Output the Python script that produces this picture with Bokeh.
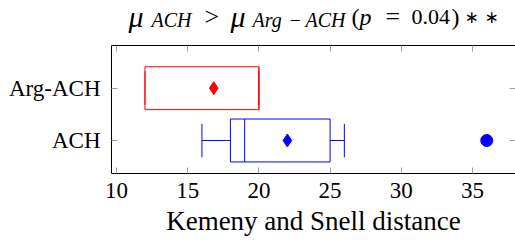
from bokeh.plotting import figure
from bokeh.models import Range1d, FixedTicker, LinearAxis, ColumnDataSource
from bokeh.layouts import column
from bokeh.embed import file_html
from bokeh.resources import INLINE

# ---- data ----
categories = ["ACH", "Arg-ACH"]
cat_pos = [1, 2]
colors = ["#0000ff", "#ff0000"]
lower_whisker = [16, 12]
q1 = [18, 12]
median = [19, 20]
q3 = [25, 20]
upper_whisker = [26, 20]
means = [22, 16.83]
outlier_cat = [1]
outlier_val = [36]
x_ticks = [10, 15, 20, 25, 30, 35]
x_label = "Kemeny and Snell distance"
title_pieces = ["μ", "ACH", ">", "μ", "Arg", "−", "ACH", "(", "p", "=", "0.04", ")", "∗", "∗"]

BOX_H = 0.41
CAP_H = 0.32
SERIF = "Liberation Serif"
W = 515
TITLE_H = 45
FRAME_L = 111

# ---- title strip (pixel coordinates) ----
tp_x = [128, 151, 204, 230, 252, 289, 305, 351, 359, 385, 411, 451, 464, 484]
tp_y = [16, 19, 16, 16, 19, 19, 19, 16, 16, 16, 16, 16, 16, 16]
tp_size = ["30px", "20px", "26px", "30px", "20px", "20px", "20px",
           "24px", "24px", "26px", "22px", "24px", "17px", "17px"]
tp_style = ["italic", "italic", "normal", "italic", "italic", "normal", "italic",
            "normal", "italic", "normal", "normal", "normal", "normal", "normal"]
tp_font = [SERIF, SERIF, SERIF, SERIF, SERIF, SERIF, SERIF,
           SERIF, SERIF, SERIF, SERIF, SERIF, "DejaVu Sans", "DejaVu Sans"]

t = figure(width=W, height=TITLE_H, output_backend="svg", toolbar_location=None,
           x_range=Range1d(FRAME_L, W), y_range=Range1d(TITLE_H, 0),
           x_axis_location=None, y_axis_location=None)
t.min_border_left = FRAME_L
t.min_border_right = 0
t.min_border_top = 0
t.min_border_bottom = 0
t.outline_line_color = None
t.grid.visible = False
t.text(x=tp_x, y=tp_y, text=title_pieces, text_font=tp_font,
       text_font_size=tp_size, text_font_style=tp_style,
       text_color="black", text_align="left", text_baseline="alphabetic")

# ---- main plot ----
p = figure(width=W, height=195, output_backend="svg", toolbar_location=None,
           x_range=Range1d(9.649, 38.02), y_range=Range1d(0.369, 2.816),
           x_axis_location=None, y_axis_location=None)
p.min_border_left = FRAME_L
p.min_border_right = 0
p.min_border_top = 0
p.min_border_bottom = 67
p.outline_line_color = None
p.grid.visible = False

def style_axis(ax, show_labels, line=True):
    ax.major_tick_in = 6
    ax.major_tick_out = 0
    ax.minor_tick_line_color = None
    ax.major_tick_line_color = "#a0a0a0"
    ax.major_tick_line_width = 1
    ax.axis_line_color = "black" if line else None
    ax.axis_line_width = 1
    ax.major_label_text_font = SERIF
    ax.major_label_text_color = "black"
    if not show_labels:
        ax.major_label_text_font_size = "0px"
        ax.major_label_text_color = None
        ax.major_label_standoff = 0

xb = LinearAxis(ticker=FixedTicker(ticks=x_ticks))
style_axis(xb, True)
xb.major_label_text_font_size = "23px"
xb.major_label_standoff = 9
xb.axis_label = x_label
xb.axis_label_text_font = SERIF
xb.axis_label_text_font_size = "27px"
xb.axis_label_text_font_style = "normal"
xb.axis_label_text_color = "black"
xb.axis_label_standoff = 5
p.add_layout(xb, "below")

xt = LinearAxis(ticker=FixedTicker(ticks=x_ticks))
style_axis(xt, False)
p.add_layout(xt, "above")

yl = LinearAxis(ticker=FixedTicker(ticks=cat_pos))
style_axis(yl, True)
yl.major_label_text_font_size = "23px"
yl.major_label_standoff = 11
yl.major_label_overrides = {c: n for c, n in zip(cat_pos, categories)}
p.add_layout(yl, "left")

yr = LinearAxis(ticker=FixedTicker(ticks=cat_pos))
style_axis(yr, False, line=False)
p.add_layout(yr, "right")

src = ColumnDataSource(dict(
    y=cat_pos, color=colors, lw=lower_whisker, q1=q1, med=median, q3=q3, uw=upper_whisker,
    mean=means,
    yb=[c - BOX_H for c in cat_pos], yt=[c + BOX_H for c in cat_pos],
    cb=[c - CAP_H for c in cat_pos], ct=[c + CAP_H for c in cat_pos],
))

p.quad(left="q1", right="q3", bottom="yb", top="yt", source=src,
       fill_color=None, line_color="color", line_width=1)
p.segment(x0="med", x1="med", y0="yb", y1="yt", source=src, line_color="color", line_width=1)
p.segment(x0="lw", x1="q1", y0="y", y1="y", source=src, line_color="color", line_width=1)
p.segment(x0="q3", x1="uw", y0="y", y1="y", source=src, line_color="color", line_width=1)
p.segment(x0="lw", x1="lw", y0="cb", y1="ct", source=src, line_color="color", line_width=1)
p.segment(x0="uw", x1="uw", y0="cb", y1="ct", source=src, line_color="color", line_width=1)
p.scatter(x="mean", y="y", source=src, marker="diamond", size=13,
          fill_color="color", line_color="color")
p.scatter(x=outlier_val, y=outlier_cat, marker="circle", size=12,
          fill_color="#0000ff", line_color="#0000ff")

layout = column(t, p, spacing=0)
open("out.html", "w").write(file_html(layout, INLINE))
